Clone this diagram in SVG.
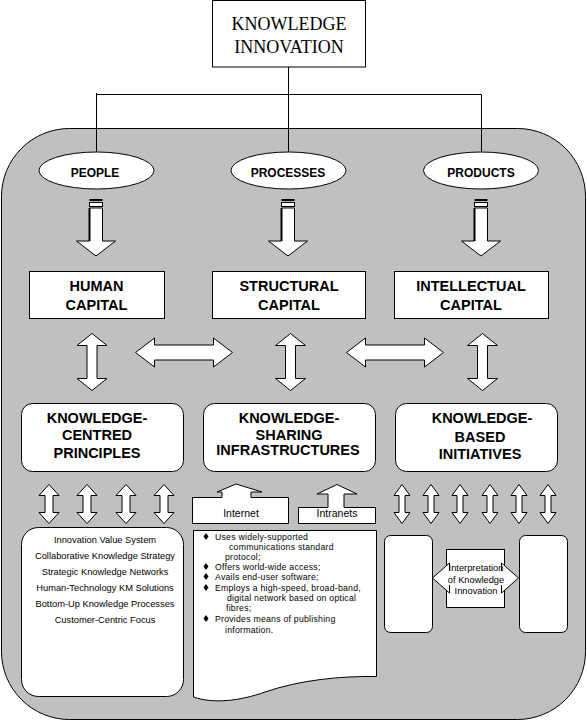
<svg xmlns="http://www.w3.org/2000/svg" xmlns:xlink="http://www.w3.org/1999/xlink" width="587" height="721" viewBox="0 0 587 721">
<style>
.ln{fill:none;stroke:#000;stroke-width:1}
.wb{fill:#fff;stroke:#000;stroke-width:1}
.bg{fill:#c0c0c0;stroke:#000;stroke-width:1}
.serif{font-family:"Liberation Serif","Times New Roman",serif;font-size:18px;text-anchor:middle;fill:#000}
.lbl{font-family:"Liberation Sans",Arial,sans-serif;font-weight:bold;font-size:12px;text-anchor:middle;fill:#000}
.cap{font-family:"Liberation Sans",Arial,sans-serif;font-weight:bold;font-size:14.5px;text-anchor:middle;fill:#000}
.sm{font-family:"Liberation Sans",Arial,sans-serif;font-size:8.7px;letter-spacing:0.25px;fill:#000}
.smc{font-family:"Liberation Sans",Arial,sans-serif;font-size:9.3px;fill:#000;text-anchor:middle}
.net{font-family:"Liberation Sans",Arial,sans-serif;font-size:10.5px;fill:#000;text-anchor:middle}
</style>
<defs>
<g id="downArrow">
<rect x="-6.5" y="199" width="13" height="2" fill="#000"/>
<rect x="-6.5" y="202.5" width="13" height="4" class="wb"/>
<path d="M-6.5,208 L6.5,208 L6.5,241 L19.5,241 L0,256 L-19.5,241 L-6.5,241 Z" class="wb"/>
<path d="M-6.5,208 L-6.5,241" stroke="#000" stroke-width="2"/>
</g>
<path id="vdbl" d="M0,0 L15,12 L5,12 L5,45 L15,45 L0,57 L-15,45 L-5,45 L-5,12 L-15,12 Z" class="wb"/>
<path id="hdbl" d="M0,0 L19,-14.5 L19,-7.5 L78,-7.5 L78,-14.5 L97,0 L78,14.5 L78,7.5 L19,7.5 L19,14.5 Z" class="wb"/>
<path id="sdblL" d="M0,0 L10,11 L4,11 L4,28 L10,28 L0,39 L-10,28 L-4,28 L-4,11 L-10,11 Z" class="wb"/>
<path id="sdblR" d="M0,0 L8,11 L3,11 L3,28 L8,28 L0,39 L-8,28 L-3,28 L-3,11 L-8,11 Z" class="wb"/>
</defs>

<rect id="background" x="1.5" y="128.5" width="584" height="591" rx="68" ry="68" class="bg"/>

<g id="connectors">
<path class="ln" d="M288.5,67 L288.5,153 M96.5,93 L96.5,153 M96.5,94.5 L481.5,94.5 M481.5,94.5 L481.5,153"/>
<use xlink:href="#downArrow" transform="translate(96,0)"/>
<use xlink:href="#downArrow" transform="translate(288,0)"/>
<use xlink:href="#downArrow" transform="translate(481,0)"/>
<use xlink:href="#vdbl" transform="translate(92,333.5)"/>
<use xlink:href="#vdbl" transform="translate(290.5,333.5)"/>
<use xlink:href="#vdbl" transform="translate(482.5,333.5)"/>
<use xlink:href="#hdbl" transform="translate(135.5,352.5)"/>
<use xlink:href="#hdbl" transform="translate(346.5,352.5)"/>
<use xlink:href="#sdblL" transform="translate(49,484.5)"/>
<use xlink:href="#sdblL" transform="translate(87,484.5)"/>
<use xlink:href="#sdblL" transform="translate(126,484.5)"/>
<use xlink:href="#sdblL" transform="translate(164,484.5)"/>
<use xlink:href="#sdblR" transform="translate(402,484.5)"/>
<use xlink:href="#sdblR" transform="translate(431,484.5)"/>
<use xlink:href="#sdblR" transform="translate(460,484.5)"/>
<use xlink:href="#sdblR" transform="translate(490,484.5)"/>
<use xlink:href="#sdblR" transform="translate(519,484.5)"/>
<use xlink:href="#sdblR" transform="translate(548,484.5)"/>
</g>

<g id="knowledge-innovation">
<rect x="212.5" y="0.5" width="153" height="66.5" class="wb"/>
<text class="serif" x="289" y="30">KNOWLEDGE</text>
<text class="serif" x="289" y="53">INNOVATION</text>
</g>

<g id="people">
<ellipse cx="96.5" cy="170.5" rx="57.5" ry="18.5" class="wb"/>
<text class="lbl" x="95" y="177">PEOPLE</text>
</g>
<g id="processes">
<ellipse cx="288.5" cy="170.5" rx="57.5" ry="18.5" class="wb"/>
<text class="lbl" x="288" y="177">PROCESSES</text>
</g>
<g id="products">
<ellipse cx="481" cy="170.5" rx="57.5" ry="18.5" class="wb"/>
<text class="lbl" x="481" y="177">PRODUCTS</text>
</g>

<g id="human-capital">
<rect x="29.5" y="271.5" width="135" height="47" class="wb"/>
<text class="cap" x="96.5" y="291">HUMAN</text>
<text class="cap" x="96.5" y="310">CAPITAL</text>
</g>
<g id="structural-capital">
<rect x="212.5" y="271.5" width="153" height="47" class="wb"/>
<text class="cap" x="289" y="291">STRUCTURAL</text>
<text class="cap" x="289" y="310">CAPITAL</text>
</g>
<g id="intellectual-capital">
<rect x="394.5" y="271.5" width="154" height="47" class="wb"/>
<text class="cap" x="471" y="291">INTELLECTUAL</text>
<text class="cap" x="471" y="310">CAPITAL</text>
</g>

<g id="knowledge-centred-principles">
<rect x="21.5" y="403.5" width="162" height="68" rx="11" class="wb"/>
<text class="cap" x="97" y="423">KNOWLEDGE-</text>
<text class="cap" x="97" y="440">CENTRED</text>
<text class="cap" x="97" y="458">PRINCIPLES</text>
</g>
<g id="knowledge-sharing-infrastructures">
<rect x="203.5" y="403.5" width="172" height="68" rx="11" class="wb"/>
<text class="cap" x="289" y="423">KNOWLEDGE-</text>
<text class="cap" x="289" y="440">SHARING</text>
<text class="cap" x="288" y="455">INFRASTRUCTURES</text>
</g>
<g id="knowledge-based-initiatives">
<rect x="395.5" y="403.5" width="162" height="68" rx="11" class="wb"/>
<text class="cap" x="482" y="423">KNOWLEDGE-</text>
<text class="cap" x="480" y="442">BASED</text>
<text class="cap" x="480" y="459">INITIATIVES</text>
</g>

<g id="internet">
<path d="M192.5,497.5 L222,497.5 L222,492 L217,492 L236,484 L262,492 L251,492 L251,497.5 L288.5,497.5 L288.5,523.5 L192.5,523.5 Z" class="wb"/>
<text class="net" x="241" y="517">Internet</text>
</g>
<g id="intranets">
<path d="M298.5,507.5 L328,507.5 L328,494 L317,494 L337,484.5 L357,494 L344,494 L344,507.5 L375.5,507.5 L375.5,523.5 L298.5,523.5 Z" class="wb"/>
<text class="net" x="337" y="517">Intranets</text>
</g>

<g id="principles-list">
<rect x="21.5" y="527.5" width="162" height="169" rx="17" class="wb"/>
<text class="smc" x="105" y="543">Innovation Value System</text>
<text class="smc" x="105" y="559">Collaborative Knowledge Strategy</text>
<text class="smc" x="105" y="575">Strategic Knowledge Networks</text>
<text class="smc" x="105" y="591">Human-Technology KM Solutions</text>
<text class="smc" x="105" y="607">Bottom-Up Knowledge Processes</text>
<text class="smc" x="105" y="623">Customer-Centric Focus</text>
</g>

<g id="internet-features">
<path d="M193.5,530.5 L376.5,530.5 L376.5,676.5 C340,676 300,680 265,692 C240,701 213,704 193.5,697 Z" class="wb"/>
<g fill="#000">
<polygon points="206,533 208.5,536.5 206,540 203.5,536.5"/>
<polygon points="206,563 208.5,566.5 206,570 203.5,566.5"/>
<polygon points="206,573 208.5,576.5 206,580 203.5,576.5"/>
<polygon points="206,584 208.5,587.5 206,591 203.5,587.5"/>
<polygon points="206,615 208.5,618.5 206,622 203.5,618.5"/>
</g>
<text class="sm" x="215" y="540">Uses widely-supported</text>
<text class="sm" x="229" y="550">communications standard</text>
<text class="sm" x="225" y="560">protocol;</text>
<text class="sm" x="215" y="570">Offers world-wide access;</text>
<text class="sm" x="215" y="580">Avails end-user software;</text>
<text class="sm" x="215" y="591">Employs a high-speed, broad-band,</text>
<text class="sm" x="227" y="601">digital network based on optical</text>
<text class="sm" x="226" y="611">fibres;</text>
<text class="sm" x="215" y="622">Provides means of publishing</text>
<text class="sm" x="225" y="633">information.</text>
</g>

<g id="initiative-left">
<rect x="384.5" y="535.5" width="48" height="97" rx="6" class="wb"/>
</g>
<g id="initiative-right">
<rect x="519.5" y="535.5" width="48" height="97" rx="6" class="wb"/>
</g>
<g id="interpretation">
<rect x="446.5" y="549.5" width="58" height="58" class="wb"/>
<path d="M449.5,571 L449.5,563 L432.5,578 L449.5,593 L449.5,585" class="wb"/>
<path d="M501.5,571 L501.5,563 L518.5,578 L501.5,593 L501.5,585" class="wb"/>
<text class="smc" x="476" y="571">Interpretation</text>
<text class="smc" x="476" y="582.5">of Knowledge</text>
<text class="smc" x="476" y="594">Innovation</text>
</g>
</svg>
